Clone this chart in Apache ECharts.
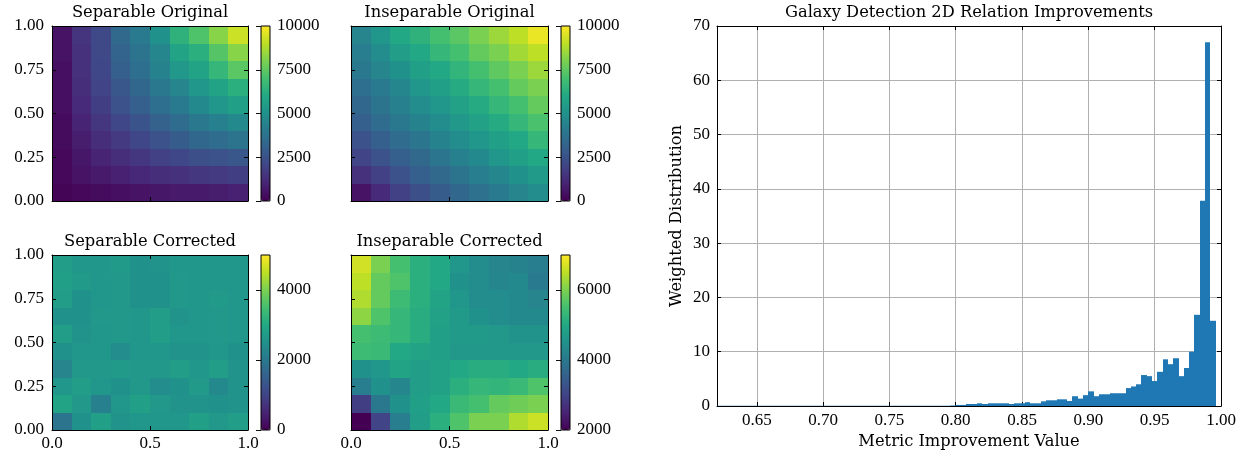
<!DOCTYPE html>
<html>
<head>
<meta charset="utf-8">
<title>Galaxy Detection 2D Relation Improvements</title>
<script src="https://cdn.jsdelivr.net/npm/echarts@6/dist/echarts.min.js"></script>
<style>
  html, body { margin: 0; padding: 0; background: #fff; }
  #chart { width: 1255px; height: 460px; }
</style>
</head>
<body>
<div id="chart"></div>
<script>
  // heatmap cells: rows listed from the top (y = 1) down, columns left to right
  const sepOriginal = [
    [500, 1500, 2200, 3400, 4100, 5000, 6400, 7200, 8200, 9200],
    [500, 1400, 2200, 3200, 3800, 4600, 5800, 6300, 7300, 8200],
    [400, 1400, 2100, 3000, 3600, 4400, 5300, 5800, 6600, 7400],
    [400, 1300, 2000, 2700, 3300, 4000, 4500, 5200, 5800, 6300],
    [400, 1200, 1800, 2500, 3000, 3600, 4100, 4700, 5200, 5600],
    [300, 1000, 1600, 2100, 2600, 3100, 3500, 4000, 4300, 4700],
    [300, 800, 1300, 1700, 2100, 2500, 2900, 3300, 3500, 3800],
    [200, 600, 1000, 1300, 1600, 1900, 2100, 2400, 2500, 2700],
    [200, 500, 700, 900, 1100, 1300, 1400, 1600, 1700, 1800],
    [100, 200, 300, 400, 500, 600, 700, 700, 800, 900]
  ]
  const insepOriginal = [
    [4500, 5200, 6000, 6400, 7000, 7400, 8000, 8500, 9000, 9700],
    [4200, 4800, 5500, 6000, 6600, 7000, 7600, 8000, 8600, 9000],
    [4000, 4500, 5000, 5600, 6000, 6500, 7000, 7500, 8000, 8500],
    [3600, 4100, 4600, 5200, 5600, 6100, 6600, 7000, 7600, 8000],
    [3300, 3800, 4300, 4800, 5200, 5700, 6100, 6600, 7000, 7600],
    [3000, 3500, 4000, 4400, 4800, 5300, 5700, 6100, 6600, 7100],
    [2500, 3000, 3500, 3900, 4400, 4800, 5200, 5600, 6000, 6600],
    [2000, 2500, 3000, 3400, 3900, 4300, 4700, 5200, 5600, 6000],
    [1400, 1900, 2500, 3000, 3400, 3800, 4200, 4600, 5000, 5400],
    [500, 1200, 1900, 2400, 2900, 3300, 3700, 4100, 4500, 4800]
  ]
  const sepCorrected = [
    [2750, 2600, 2600, 2700, 2500, 2550, 2600, 2600, 2600, 2600],
    [2800, 2700, 2600, 2650, 2500, 2500, 2650, 2600, 2600, 2600],
    [2750, 2500, 2600, 2650, 2500, 2500, 2650, 2600, 2700, 2600],
    [2500, 2500, 2650, 2650, 2600, 2750, 2550, 2600, 2650, 2600],
    [2750, 2550, 2600, 2650, 2600, 2750, 2600, 2600, 2650, 2600],
    [2500, 2600, 2600, 2400, 2600, 2600, 2550, 2550, 2600, 2500],
    [2250, 2650, 2650, 2700, 2650, 2650, 2750, 2600, 2750, 2550],
    [2600, 2750, 2600, 2500, 2650, 2400, 2500, 2700, 2350, 2550],
    [2900, 2650, 2150, 2600, 2800, 2650, 2550, 2550, 2500, 2550],
    [1900, 2500, 2800, 2550, 2600, 2600, 2600, 2800, 2650, 2750]
  ]
  const insepCorrected = [
    [6650, 6000, 5500, 5150, 5000, 4600, 4400, 4250, 4200, 4100],
    [6500, 5800, 5600, 5150, 5000, 4500, 4400, 4300, 4350, 4050],
    [6400, 5800, 5400, 5150, 4900, 4600, 4400, 4400, 4350, 4250],
    [6150, 5600, 5300, 5100, 4850, 4700, 4500, 4400, 4350, 4350],
    [5500, 5400, 5300, 5100, 4800, 4700, 4700, 4650, 4550, 4550],
    [5400, 5350, 5000, 4900, 4800, 4650, 4650, 4650, 4650, 4650],
    [4500, 4600, 4900, 4750, 4850, 5000, 5100, 5100, 5000, 5100],
    [4100, 4500, 4300, 4750, 4850, 5150, 5300, 5250, 5350, 5600],
    [2900, 4000, 4500, 4800, 5000, 5350, 5500, 5800, 5900, 6000],
    [2000, 3000, 4100, 4750, 5150, 5600, 6000, 6000, 6400, 6600]
  ]

  // histogram: bins of equal width starting at histStart
  const histStart = 0.62
  const binWidth = 0.004
  const histCounts = [
    0.05, 0.05, 0.05, 0.05, 0.05, 0.05, 0.05, 0.05, 0.05, 0.05, 0.05,
    0.05, 0.05, 0.05, 0.05, 0.05, 0.05, 0.05, 0.05, 0.05, 0.05, 0.05,
    0.05, 0.05, 0.05, 0.05, 0.05, 0.05, 0.05, 0.05, 0.05, 0.05, 0.05,
    0.05, 0.05, 0.05, 0.05, 0.05, 0.05, 0.05, 0.05, 0.05, 0.05, 0.05,
    0.1, 0.2, 0.2, 0.37, 0.37, 0.5, 0.37, 0.5, 0.5, 0.5,
    0.5, 0.37, 0.5, 0.5, 0.7, 0.5, 0.5, 0.86, 1.05, 1.05,
    1.23, 1.23, 0.93, 1.8, 1.36, 2.0, 2.7, 1.8, 2.16, 2.16,
    2.35, 2.35, 2.35, 3.3, 3.6, 4.0, 5.7, 5.5, 4.6, 6.3,
    8.6, 7.7, 8.8, 5.5, 7.0, 10.0, 16.8, 37.8, 67.0, 15.7
  ]
  const histTicks = [0.65, 0.70, 0.75, 0.80, 0.85, 0.90, 0.95, 1.00]

  const viridis = ['#440154', '#482475', '#414487', '#355f8d', '#2a788e', '#21918c',
    '#22a884', '#44bf70', '#7ad151', '#bddf26', '#fde725']
  const numberFont = 'Liberation Serif'
  const textFont = 'DejaVu Serif'
  const black = '#000'

  const panels = [
    {name: 'Separable Original', rows: sepOriginal, left: 52, top: 26, width: 196, min: 0, max: 10000, step: 2500, showY: true, showX: false, barLeft: 261},
    {name: 'Inseparable Original', rows: insepOriginal, left: 351, top: 26, width: 197, min: 0, max: 10000, step: 2500, showY: false, showX: false, barLeft: 561},
    {name: 'Separable Corrected', rows: sepCorrected, left: 52, top: 255, width: 196, min: 0, max: 5000, step: 2000, showY: true, showX: true, barLeft: 261},
    {name: 'Inseparable Corrected', rows: insepCorrected, left: 351, top: 255, width: 197, min: 2000, max: 7000, step: 2000, showY: false, showX: true, barLeft: 561}
  ]
  const panelHeight = 175

  function toCells(rows) {
    const cells = []
    const n = rows.length
    rows.forEach((row, r) => {
      row.forEach((v, c) => {
        cells.push([c, n - 1 - r, v, row.length, n])
      })
    })
    return cells
  }

  // snap to whole pixels so neighbouring rects leave no seams
  function snapRect(p0, p1) {
    const x0 = Math.round(p0[0]), x1 = Math.round(p1[0])
    const y0 = Math.round(p0[1]), y1 = Math.round(p1[1])
    return {x: x0, y: y0, width: x1 - x0, height: y1 - y0}
  }

  function renderCell(params, api) {
    const c = api.value(0), r = api.value(1)
    const nx = api.value(3), ny = api.value(4)
    const p0 = api.coord([c / nx, (r + 1) / ny])
    const p1 = api.coord([(c + 1) / nx, r / ny])
    return {type: 'rect', shape: snapRect(p0, p1), style: {fill: api.visual('color')}}
  }

  function renderBin(params, api) {
    const p0 = api.coord([api.value(0), api.value(2)])
    const p1 = api.coord([api.value(1), 0])
    const x0 = Math.round(p0[0]), x1 = Math.round(p1[0])
    return {
      type: 'rect',
      shape: {x: x0, y: p0[1], width: x1 - x0, height: p1[1] - p0[1]},
      style: {fill: '#1f77b4'}
    }
  }

  const labelStyle = {color: black, fontFamily: numberFont, fontSize: 17}
  const nameStyle = {color: black, fontFamily: textFont, fontSize: 16.3}
  const tickStyle = {show: true, inside: true, length: 4, lineStyle: {color: black, width: 1}}
  const lineStyle = {show: true, onZero: false, lineStyle: {color: black, width: 1}}

  const grid = [], xAxis = [], yAxis = [], series = [], visualMap = []

  panels.forEach((p, k) => {
    // heatmap panel
    const g = grid.length
    grid.push({left: p.left, top: p.top, width: p.width, height: panelHeight, outerBoundsMode: 'none'})
    const unitAxis = {type: 'value', gridIndex: g, min: 0, max: 1, z: 3, axisLine: lineStyle, axisTick: tickStyle, splitLine: {show: false}}
    const xi = xAxis.length
    xAxis.push(Object.assign({}, unitAxis, {
      position: 'bottom', interval: 0.5,
      axisLabel: Object.assign({show: p.showX, margin: 5, formatter: v => v.toFixed(1)}, labelStyle)
    }))
    xAxis.push(Object.assign({}, unitAxis, {
      position: 'top', interval: 0.5, axisLabel: {show: false},
      name: p.name, nameLocation: 'middle', nameGap: 5, nameTextStyle: nameStyle
    }))
    const yi = yAxis.length
    yAxis.push(Object.assign({}, unitAxis, {
      position: 'left', interval: 0.25,
      axisLabel: Object.assign({show: p.showY, margin: 8, formatter: v => v.toFixed(2)}, labelStyle)
    }))
    yAxis.push(Object.assign({}, unitAxis, {position: 'right', interval: 0.25, axisLabel: {show: false}}))
    series.push({
      type: 'custom', name: p.name, xAxisIndex: xi, yAxisIndex: yi,
      renderItem: renderCell, data: toCells(p.rows), encode: {x: 0, y: 1}
    })

    // colorbar
    const cg = grid.length
    grid.push({left: p.barLeft, top: p.top, width: 9, height: panelHeight, show: true, z: 6,
      borderColor: black, borderWidth: 1, backgroundColor: 'transparent', outerBoundsMode: 'none'})
    xAxis.push({type: 'value', gridIndex: cg, min: 0, max: 1, show: false})
    yAxis.push({
      type: 'value', gridIndex: cg, position: 'right', min: p.min, max: p.max, interval: p.step, z: 6,
      axisLine: {show: false}, axisTick: {show: true, inside: true, length: 5, lineStyle: {color: '#111', width: 1}},
      splitLine: {show: false},
      axisLabel: Object.assign({margin: 7, showMaxLabel: p.max % p.step === 0, formatter: v => String(v)}, labelStyle)
    })
    visualMap.push({
      type: 'continuous', seriesIndex: k, dimension: 2, min: p.min, max: p.max,
      inRange: {color: viridis}, calculable: false, hoverLink: false,
      left: p.barLeft, top: p.top, itemWidth: 9, itemHeight: panelHeight, padding: 0, z: 4
    })
  })

  // histogram panel
  const hg = grid.length
  grid.push({left: 717, top: 26, width: 504, height: 380, outerBoundsMode: 'none'})
  const hx = xAxis.length
  const histX = {
    type: 'value', gridIndex: hg, min: histStart, max: 1.0, axisLine: lineStyle,
    axisTick: Object.assign({customValues: histTicks}, tickStyle)
  }
  xAxis.push(Object.assign({}, histX, {
    position: 'bottom',
    splitLine: {show: true, lineStyle: {color: '#b0b0b0', width: 1}},
    axisLabel: Object.assign({customValues: histTicks, margin: 6, formatter: v => v.toFixed(2)}, labelStyle),
    name: 'Metric Improvement Value', nameLocation: 'middle', nameGap: 27, nameTextStyle: nameStyle
  }))
  xAxis.push(Object.assign({}, histX, {
    position: 'top', splitLine: {show: false}, axisLabel: {show: false},
    name: 'Galaxy Detection 2D Relation Improvements', nameLocation: 'middle', nameGap: 5, nameTextStyle: nameStyle
  }))
  const hy = yAxis.length
  const histY = {type: 'value', gridIndex: hg, min: 0, max: 70, interval: 10, axisLine: lineStyle, axisTick: tickStyle}
  yAxis.push(Object.assign({}, histY, {
    position: 'left',
    splitLine: {show: true, lineStyle: {color: '#b0b0b0', width: 1}},
    axisLabel: Object.assign({margin: 7}, labelStyle),
    name: 'Weighted Distribution', nameLocation: 'middle', nameGap: 32, nameRotate: 90, nameTextStyle: nameStyle
  }))
  yAxis.push(Object.assign({}, histY, {position: 'right', splitLine: {show: false}, axisLabel: {show: false}}))
  series.push({
    type: 'custom', name: 'histogram', xAxisIndex: hx, yAxisIndex: hy, renderItem: renderBin,
    data: histCounts.map((h, i) => [histStart + i * binWidth, histStart + (i + 1) * binWidth, h]),
    encode: {x: [0, 1], y: 2}
  })

  const chart = echarts.init(document.getElementById('chart'), null, {renderer: 'canvas'})
  chart.setOption({
    backgroundColor: '#fff',
    animation: false,
    textStyle: {fontFamily: numberFont},
    grid: grid,
    xAxis: xAxis,
    yAxis: yAxis,
    visualMap: visualMap,
    series: series
  })
</script>
</body>
</html>
